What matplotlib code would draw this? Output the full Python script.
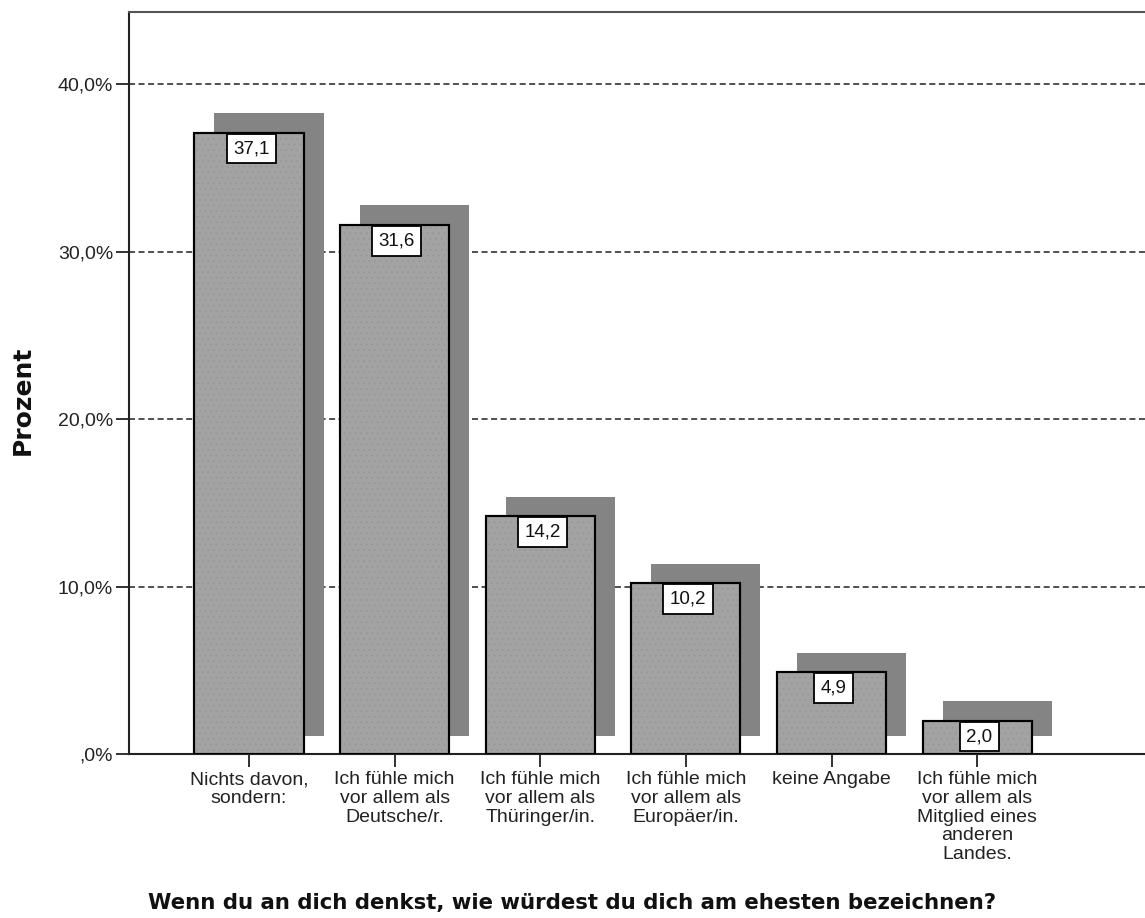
import matplotlib
matplotlib.use("Agg")
import matplotlib.pyplot as plt
import numpy as np

# Survey answers and their shares in percent
categories = [
    "Nichts davon,\nsondern:",
    "Ich fühle mich\nvor allem als\nDeutsche/r.",
    "Ich fühle mich\nvor allem als\nThüringer/in.",
    "Ich fühle mich\nvor allem als\nEuropäer/in.",
    "keine Angabe",
    "Ich fühle mich\nvor allem als\nMitglied eines\nanderen\nLandes.",
]
values = [37.1, 31.6, 14.2, 10.2, 4.9, 2.0]
value_labels = ["37,1", "31,6", "14,2", "10,2", "4,9", "2,0"]
yticks = [0, 10, 20, 30, 40]
ytick_labels = [",0%", "10,0%", "20,0%", "30,0%", "40,0%"]

title = "Wenn du an dich denkst, wie würdest du dich am ehesten bezeichnen?"
ylabel = "Prozent"

plt.rcParams["hatch.linewidth"] = 0.5

fig = plt.figure(figsize=(11.45, 9.18), dpi=100)
ax = fig.add_axes([0.1127, 0.1786, 0.8900, 0.8083])

x = np.arange(len(values))
bar_w = 0.749
shadow_dx = 0.137
shadow_lift = 1.05  # percent units the drop shadow is raised

# gridlines behind everything
for t in yticks[1:]:
    ax.axhline(t, color="#505050", lw=1.4, ls=(0, (3.1, 1.8)), zorder=1)

# drop shadows
ax.bar(x + shadow_dx, np.array(values) + 0.1, bottom=shadow_lift, width=bar_w,
       color="#848484", edgecolor="none", zorder=2)
# bars
ax.bar(x, values, width=bar_w, color="#a3a3a3", edgecolor="black",
       linewidth=1.5, zorder=3)
# fine stipple texture on the bars
ax.bar(x, values, width=bar_w, color="none", edgecolor="#969696",
       hatch="...", linewidth=0, zorder=3.5)
ax.bar(x, values, width=bar_w, color="none", edgecolor="black",
       linewidth=1.5, zorder=3.6)

# value boxes at the top of each bar
fs_val = 13.5
pad = 0.34
for xi, v, lab in zip(x, values, value_labels):
    ax.annotate(lab, xy=(xi, v), xytext=(1.5, -pad * fs_val - 0.8),
                textcoords="offset points", ha="center", va="top",
                fontsize=fs_val, family="Liberation Sans", color="#111111",
                bbox=dict(boxstyle=f"square,pad={pad}", fc="white",
                          ec="black", lw=1.3), zorder=5)

ax.set_xlim(-0.824, 6.174)
ax.set_ylim(0, 44.3)

ax.set_yticks(yticks)
ax.set_yticklabels(ytick_labels, family="Liberation Sans", fontsize=14,
                   color="#222222")
ax.set_xticks(x)
ax.set_xticklabels(categories, family="Liberation Sans", fontsize=14,
                   color="#222222", linespacing=1.13, va="top")

ax.tick_params(axis="both", direction="out", length=9.5, width=1.3,
               color="#222222")
ax.tick_params(axis="y", pad=2)
ax.tick_params(axis="x", pad=3)

for side in ("left", "bottom", "top"):
    ax.spines[side].set_linewidth(1.5)
    ax.spines[side].set_color("#222222")
ax.spines["top"].set_color("#555555")
ax.spines["right"].set_visible(False)

fig.text(23 / 1145, 1 - 400 / 918, ylabel, rotation=90, ha="center",
         va="center", fontsize=18, fontweight="bold", family="DejaVu Sans",
         color="#111111")
fig.text(0.5, 1 - 903 / 918, title, ha="center", va="center", fontsize=15.3,
         fontweight="bold", family="DejaVu Sans", color="#111111")

fig.savefig("out.png", dpi=100)
